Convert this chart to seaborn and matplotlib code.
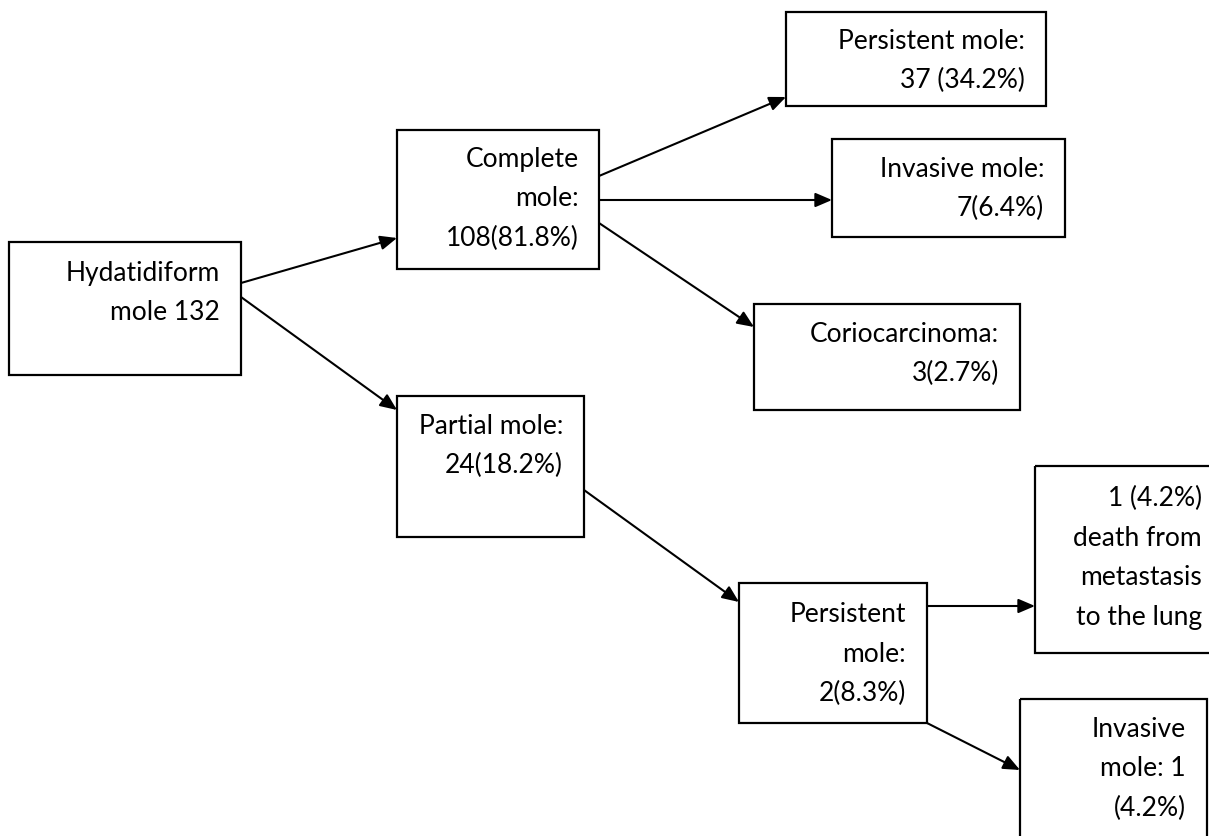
import matplotlib
matplotlib.use("Agg")
import matplotlib.pyplot as plt
from matplotlib.patches import Rectangle
import seaborn as sns

# ---- content (labels of each node) ----
node_names = ["hyd", "complete", "partial", "pers1", "inv1", "corio", "pers2", "death", "inv2"]
node_labels = [
    ["Hydatidiform", "mole 132"],
    ["Complete", "mole:", "108(81.8%)"],
    ["Partial mole:", "24(18.2%)"],
    ["Persistent mole:", "37 (34.2%)"],
    ["Invasive mole:", "7(6.4%)"],
    ["Coriocarcinoma:", "3(2.7%)"],
    ["Persistent", "mole:", "2(8.3%)"],
    ["1 (4.2%)", "death from", "metastasis", "to the lung"],
    ["Invasive", "mole: 1", "(4.2%)"],
]
edges_from = ["hyd", "hyd", "complete", "complete", "complete", "partial", "pers2", "pers2"]
edges_to = ["complete", "partial", "pers1", "inv1", "corio", "pers2", "death", "inv2"]

# ---- layout (pixel positions in the figure) ----
box_rect = {  # x0, y0, x1, y1
    "hyd": (9, 242, 241, 375),
    "complete": (397, 130, 599, 269),
    "partial": (397, 396, 584, 537),
    "pers1": (786, 12, 1046, 106),
    "inv1": (832, 139, 1065, 237),
    "corio": (754, 304, 1020, 410),
    "pers2": (739, 583, 927, 723),
    "death": (1035, 466, 1220, 653),
    "inv2": (1020, 699, 1207, 850),
}
text_right = {"hyd": 220, "complete": 579, "partial": 563, "pers1": 1025, "inv1": 1044,
              "corio": 999, "pers2": 906, "death": 1202, "inv2": 1186}
text_first = {"hyd": 272, "complete": 158, "partial": 425, "pers1": 40, "inv1": 168,
              "corio": 333, "pers2": 613, "death": 497, "inv2": 728}
line_gap = 39.5
arrow_pts = [
    ((241, 283), (397, 238)),
    ((241, 297), (397, 410)),
    ((599, 176), (786, 97)),
    ((599, 200), (832, 200)),
    ((599, 223), (754, 327)),
    ((584, 490), (739, 602)),
    ((927, 606), (1035, 606)),
    ((927, 723), (1020, 770)),
]

sns.set_theme(style="white")
plt.rcParams["font.family"] = ["Lato", "DejaVu Sans"]

W, H = 1209, 836
fig = plt.figure(figsize=(W / 100, H / 100), dpi=100)
ax = fig.add_axes([0, 0, 1, 1])
ax.set_xlim(0, W)
ax.set_ylim(H, 0)
ax.axis("off")

for name, lines in zip(node_names, node_labels):
    x0, y0, x1, y1 = box_rect[name]
    ax.add_patch(Rectangle((x0, y0), x1 - x0, y1 - y0, fill=False,
                           edgecolor="black", linewidth=1.6, zorder=2))
    for i, ln in enumerate(lines):
        ax.text(text_right[name], text_first[name] + 9 + i * line_gap, ln,
                ha="right", va="baseline", fontsize=19, color="black", zorder=3)

for (src, dst), (p0, p1) in zip(zip(edges_from, edges_to), arrow_pts):
    ax.annotate("", xy=p1, xytext=p0,
                arrowprops=dict(arrowstyle="-|>,head_length=0.56,head_width=0.24",
                                mutation_scale=18, lw=1.5, color="black",
                                shrinkA=0, shrinkB=0), zorder=4)

fig.savefig("out.png", dpi=100)
